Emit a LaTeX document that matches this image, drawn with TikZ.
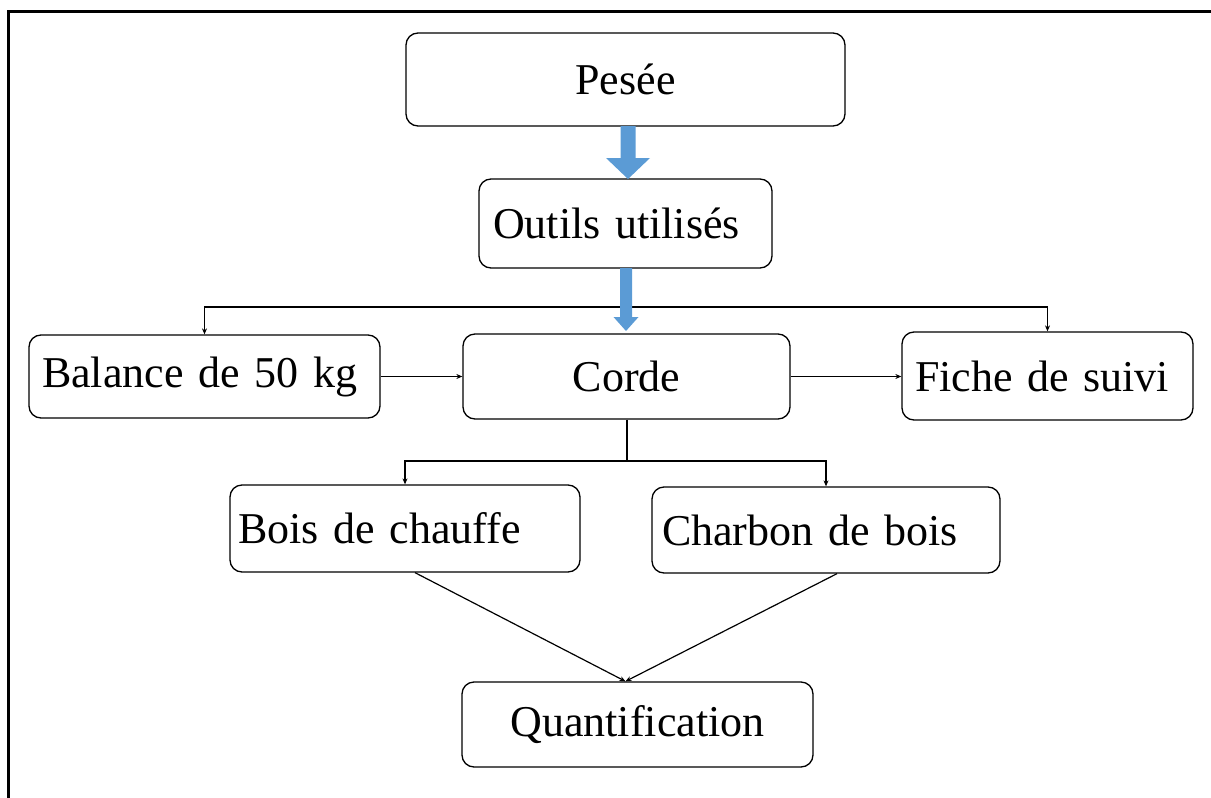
\documentclass[tikz,border=0pt]{standalone}
\usepackage{fontspec}
\setmainfont{Liberation Serif}
\usetikzlibrary{arrows.meta,calc}
\definecolor{officeblue}{RGB}{91,155,213}
\begin{document}
\begin{tikzpicture}[x=1pt,y=-1pt,
  box/.style={draw, rounded corners=12pt, line width=1.3pt, inner sep=0pt,
    font=\fontsize{44}{50}\selectfont},
  cbox/.style={box, align=center},
  lbox/.style={box, align=left},
  conn/.style={line width=1.2pt},
  arr/.style={conn, -{Stealth[length=6pt,width=5pt]}},
  blockarrow/.style={fill=officeblue}]
\useasboundingbox (0,0) rectangle (1211,798);
\draw[line width=3pt] (8.5,798) -- (8.5,11.5) -- (1212,11.5);

\node[cbox, minimum width=439, minimum height=93] (pesee) at (625.5,79.5) {Pesée};
\node[lbox, inner xsep=14pt, text width=265pt, minimum height=89] (outils) at (625.5,223.5) {Outils utilisés};
\node[lbox, inner xsep=13pt, text width=325pt, minimum height=83] (balance) at (204.5,376.5) {Balance de 50 kg};
\node[cbox, minimum width=327, minimum height=85] (corde) at (626.5,376.5) {Corde};
\node[lbox, inner xsep=13pt, text width=265pt, minimum height=88] (fiche) at (1047.5,376) {Fiche de suivi};
\node[lbox, inner xsep=8pt, text width=334pt, minimum height=87] (bois) at (405,528.5) {Bois de chauffe};
\node[lbox, inner xsep=10pt, text width=328pt, minimum height=86] (charbon) at (826,530) {Charbon de bois};
\node[cbox, minimum width=351, minimum height=85] (quant) at (637.5,724.5) {Quantification};

% connectors
\coordinate (j1) at (626,307);
\draw[conn] (outils.south) -- (j1);
\draw[arr] (j1) -| (balance.north);
\draw[arr] (j1) -| (fiche.north);
\draw[arr] (balance.east) -- (corde.west);
\draw[arr] (corde.east) -- (corde.east -| fiche.west);
\coordinate (j2) at (627,461);
\draw[conn] (corde.south -| j2) -- (j2);
\draw[arr] (j2) -| (bois.north);
\draw[arr] (j2) -| (charbon.north);
\coordinate (qtop) at ($(quant.north)+(-12,0)$);
\draw[arr] ($(bois.south)+(10,0)$) -- (qtop);
\draw[arr] ($(charbon.south)+(11,0)$) -- (qtop);

% block arrows
\fill[blockarrow] (620.5,126) -- (635.5,126) -- (635.5,158) -- (650,158) -- (628,179) -- (606,158) -- (620.5,158) -- cycle;
\fill[blockarrow] (620,268) -- (632,268) -- (632,317) -- (638.5,317) -- (626,331) -- (613.5,317) -- (620,317) -- cycle;
\end{tikzpicture}
\end{document}
